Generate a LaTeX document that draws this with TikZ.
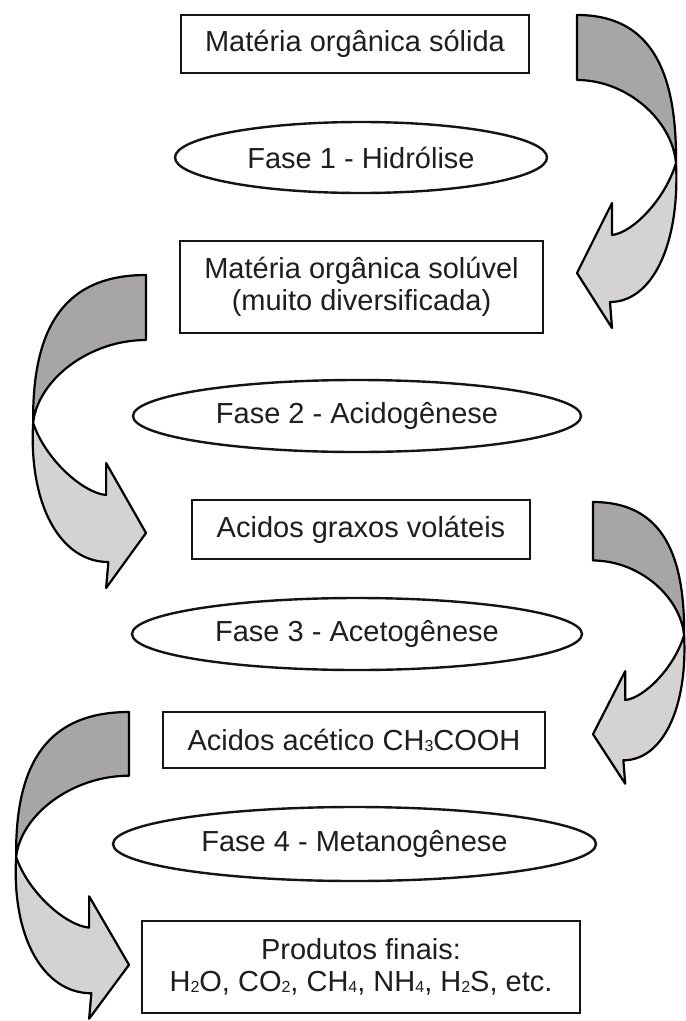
\documentclass[tikz,border=0pt]{standalone}
\usepackage{fontspec}
\setmainfont{Liberation Sans}
\usetikzlibrary{shapes.geometric}
\definecolor{darkband}{RGB}{168,165,165}
\definecolor{lightband}{RGB}{213,210,210}
\definecolor{txt}{RGB}{30,30,30}
\newcommand{\chemsub}[1]{\raisebox{-1pt}{\fontsize{16}{16}\selectfont #1}}
\tikzset{
  bandline/.style={draw=black, line width=2.2pt, line join=round},
  stepbox/.style={draw=black!92, line width=2.8pt, fill=white, inner sep=0pt, text=txt, align=center, font=\fontsize{29}{32}\selectfont},
  phase/.style={ellipse, draw=black!92, line width=2.4pt, fill=white, inner sep=0pt, text=txt, font=\fontsize{29}{32}\selectfont},
  turn/.pic={
    \path[bandline, fill=darkband] (0,0) .. controls (70,0) and (100,50) .. (99,148)
      .. controls (95,105) and (50,65) .. (0,65) -- cycle;
    \path[bandline, fill=lightband] (99,148) .. controls (103,230) and (75,287) .. (33,287)
      -- (35,313) -- (0,258) -- (35,188) -- (35,220)
      .. controls (55,218) and (88,185) .. (99,148) -- cycle;
  }
}
\begin{document}
\begin{tikzpicture}[x=1pt, y=-1pt]
\clip (0,0) rectangle (686,1021);
\fill[white] (0,0) rectangle (686,1021);

% curved arrows
\pic (arrowA) at (577,15) {turn};
\pic[xscale=-1.14] (arrowB) at (146,275) {turn};
\pic[xscale=0.92, yscale=0.9] (arrowC) at (593,502) {turn};
\pic[xscale=-1.14, yscale=0.98] (arrowD) at (129,712) {turn};

% boxes and phases
\node[stepbox, minimum width=348pt, minimum height=58pt] (b1) at (355,44) {Matéria orgânica sólida};
\node[phase, minimum width=372pt, minimum height=71pt] (e1) at (361,157.5) {Fase 1 - Hidrólise};
\node[stepbox, minimum width=363pt, minimum height=92pt] (b2) at (361.5,287) {Matéria orgânica solúvel\\(muito diversificada)};
\node[phase, minimum width=448pt, minimum height=72pt] (e2) at (357,416) {Fase 2 - Acidogênese};
\node[stepbox, minimum width=338pt, minimum height=59pt] (b3) at (361,529.5) {Acidos graxos voláteis};
\node[phase, minimum width=450pt, minimum height=72pt] (e3) at (357,634) {Fase 3 - Acetogênese};
\node[stepbox, minimum width=382pt, minimum height=56pt] (b4) at (354,740) {Acidos acético CH\chemsub{3}COOH};
\node[phase, minimum width=483pt, minimum height=74pt] (e4) at (354.5,844) {Fase 4 - Metanogênese};
\node[stepbox, minimum width=438pt, minimum height=92pt] (b5) at (361,967) {Produtos finais:\\H\chemsub{2}O, CO\chemsub{2}, CH\chemsub{4}, NH\chemsub{4}, H\chemsub{2}S, etc.};
\end{tikzpicture}
\end{document}
